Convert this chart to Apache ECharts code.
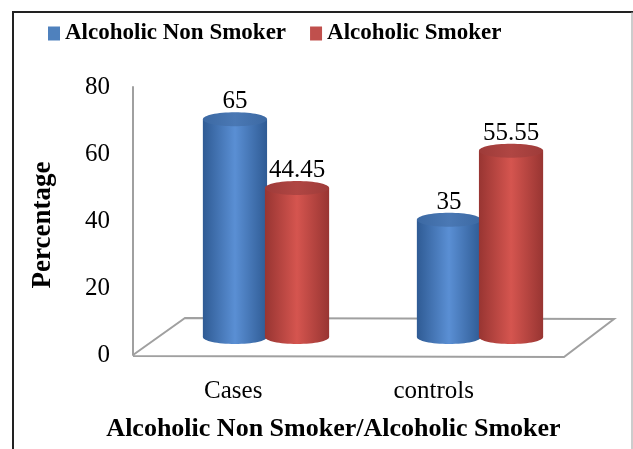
<!DOCTYPE html>
<html>
<head>
<meta charset="utf-8">
<script src="https://cdn.jsdelivr.net/npm/echarts@6/dist/echarts.min.js"></script>
<style>
  html, body { margin: 0; padding: 0; background: #fff; }
  #chartData { width: 633px; height: 449px; }
</style>
</head>
<body>
<div id="chartData"></div>
<script>
// 数据
var categories = ['Cases', 'controls'];
var seriesNames = ['Alcoholic Non Smoker', 'Alcoholic Smoker'];
var nonSmoker = [65, 35];
var smoker = [44.45, 55.55];
var yTicks = [0, 20, 40, 60, 80];

var serif = '"Liberation Serif", "Times New Roman", serif';

// 圆柱颜色
var palette = [
    { base: '#4f81bd', dark: '#2f5b94', light: '#5a8fd4', top: '#3c69a3', topLight: '#4a78b4' },
    { base: '#c0504d', dark: '#983532', light: '#d5554f', top: '#9e3b39', topLight: '#b04643' }
];

var cylinder = function(idx) {
    return function(params, api) {
        var cat = api.value(0);
        var val = api.value(1);
        var top = api.coord([cat, val]);
        var base = api.coord([cat, 0]);
        var band = api.size([1, 0])[0];
        var w = band * 0.30;
        var cx = top[0] + (idx === 0 ? -0.145 : 0.145) * band;
        var ry = 7;
        var c = palette[idx];
        var bodyFill = new echarts.graphic.LinearGradient(0, 0, 1, 0, [
            { offset: 0, color: c.dark },
            { offset: 0.5, color: c.light },
            { offset: 1, color: c.dark }
        ]);
        return {
            type: 'group',
            children: [
                { type: 'ellipse', shape: { cx: cx, cy: base[1], rx: w / 2, ry: ry }, style: { fill: bodyFill } },
                { type: 'rect', shape: { x: cx - w / 2, y: top[1], width: w, height: base[1] - top[1] }, style: { fill: bodyFill } },
                { type: 'ellipse', shape: { cx: cx, cy: top[1], rx: w / 2, ry: ry },
                  style: { fill: new echarts.graphic.LinearGradient(0, 0, 1, 0, [
                      { offset: 0, color: c.top }, { offset: 0.5, color: c.topLight }, { offset: 1, color: c.top }
                  ]) } },
                { type: 'text', style: { text: String(val), x: cx, y: top[1] - ry + 2, align: 'center', verticalAlign: 'bottom',
                    font: '25px ' + serif, fill: '#000' } }
            ]
        };
    };
};

var myChart = echarts.init(document.getElementById('chartData'));

var option = {
    animation: false,
    legend: {
        left: 43,
        top: 17,
        itemWidth: 12,
        itemHeight: 14,
        itemGap: 24,
        icon: 'rect',
        data: seriesNames,
        textStyle: { fontFamily: serif, fontWeight: 'bold', fontSize: 23, color: '#000' }
    },
    grid: [
        { left: 133, right: 99, top: 87, bottom: 94 },
        { left: 159, right: 46, top: 87, bottom: 112 }
    ],
    xAxis: [{
        gridIndex: 0,
        type: 'category',
        data: categories,
        axisLine: { show: false },
        axisTick: { show: false },
        axisLabel: { margin: 24, fontFamily: serif, fontSize: 25, color: '#000' },
        name: 'Alcoholic Non Smoker/Alcoholic Smoker',
        nameLocation: 'middle',
        nameGap: 61,
        nameTextStyle: { fontFamily: serif, fontWeight: 'bold', fontSize: 26, color: '#000' }
    }, {
        gridIndex: 1,
        type: 'category',
        data: categories,
        show: false
    }],
    yAxis: [{
        gridIndex: 0,
        type: 'value',
        min: yTicks[0],
        max: yTicks[yTicks.length - 1],
        interval: 20,
        axisLine: { show: true, lineStyle: { color: '#a0a0a0', width: 2 } },
        axisTick: { show: false },
        splitLine: { show: false },
        axisLabel: { margin: 23, fontFamily: serif, fontSize: 25, color: '#000', padding: [6, 0, 0, 0] },
        name: 'Percentage',
        nameLocation: 'middle',
        nameGap: 76,
        nameTextStyle: { fontFamily: serif, fontWeight: 'bold', fontSize: 27, color: '#000', padding: [0, 8, 0, 0] }
    }, {
        gridIndex: 1,
        type: 'value',
        min: 0,
        max: 74.6,
        show: false
    }],
    graphic: [
        { type: 'polyline', z: 0, shape: { points: [[133, 355], [185, 318], [614, 319], [564, 357], [133, 356]] },
          style: { stroke: '#a0a0a0', lineWidth: 2, fill: null } },
        { type: 'line', shape: { x1: 12, y1: 12, x2: 633, y2: 12 }, style: { stroke: '#222', lineWidth: 2 } },
        { type: 'line', shape: { x1: 13, y1: 12, x2: 13, y2: 449 }, style: { stroke: '#222', lineWidth: 2 } },
        { type: 'line', shape: { x1: 632, y1: 12, x2: 632, y2: 449 }, style: { stroke: '#999', lineWidth: 1 } }
    ],
    series: [{
        name: seriesNames[0],
        type: 'custom',
        xAxisIndex: 1,
        yAxisIndex: 1,
        itemStyle: { color: palette[0].base },
        renderItem: cylinder(0),
        encode: { x: 0, y: 1 },
        data: nonSmoker.map(function(v, i) { return [i, v]; })
    }, {
        name: seriesNames[1],
        type: 'custom',
        xAxisIndex: 1,
        yAxisIndex: 1,
        itemStyle: { color: palette[1].base },
        renderItem: cylinder(1),
        encode: { x: 0, y: 1 },
        data: smoker.map(function(v, i) { return [i, v]; })
    }]
};

myChart.setOption(option);
</script>
</body>
</html>
